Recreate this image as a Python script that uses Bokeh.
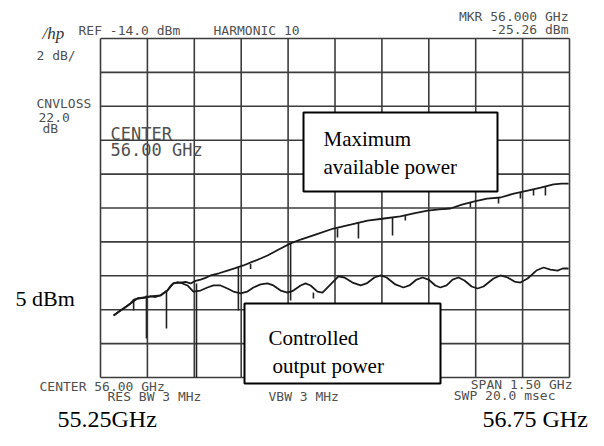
from bokeh.plotting import figure
from bokeh.models import Label, BoxAnnotation, Range1d
from bokeh.embed import file_html
from bokeh.resources import INLINE

# ---- data (frequency in GHz, level in dBm as read on the analyzer) ----
f_start, f_stop = 55.25, 56.75
ref_level, db_per_div = -14.0, 2.0

max_f = [55.292, 55.303, 55.314, 55.330, 55.346, 55.357, 55.368, 55.389, 55.410, 55.426,
         55.442, 55.453, 55.464, 55.474, 55.483, 55.495, 55.506, 55.522, 55.538, 55.554,
         55.570, 55.586, 55.602, 55.629, 55.656, 55.681, 55.707, 55.735, 55.762, 55.784,
         55.820, 55.858, 55.890, 55.940, 55.995, 56.050, 56.104, 56.157, 56.209, 56.252,
         56.296, 56.333, 56.369, 56.406, 56.443, 56.486, 56.529, 56.572, 56.616, 56.658,
         56.699, 56.725, 56.747]
max_p = [-30.34, -30.20, -30.05, -29.85, -29.63, -29.40, -29.34, -29.30, -29.22, -29.25,
         -29.16, -29.00, -28.87, -28.60, -28.45, -28.38, -28.40, -28.36, -28.45, -28.30,
         -28.22, -28.12, -27.98, -27.85, -27.69, -27.55, -27.39, -27.18, -26.98, -26.80,
         -26.45, -26.09, -25.86, -25.55, -25.21, -24.98, -24.74, -24.62, -24.50, -24.32,
         -24.15, -24.08, -24.03, -23.80, -23.62, -23.45, -23.38, -23.15, -22.97, -22.80,
         -22.61, -22.56, -22.56]

ctl_f = [55.292, 55.314, 55.346, 55.368, 55.410, 55.442, 55.464, 55.483, 55.506, 55.528,
         55.547, 55.570, 55.592, 55.611, 55.634, 55.656, 55.675, 55.698, 55.720, 55.739,
         55.762, 55.784, 55.803, 55.826, 55.848, 55.867, 55.890, 55.906, 55.922, 55.944,
         55.960, 55.986, 56.011, 56.030, 56.056, 56.082, 56.101, 56.126, 56.146, 56.165,
         56.193, 56.219, 56.238, 56.261, 56.280, 56.299, 56.321, 56.337, 56.357, 56.376,
         56.395, 56.414, 56.437, 56.456, 56.475, 56.507, 56.529, 56.552, 56.574, 56.593,
         56.616, 56.644, 56.667, 56.689, 56.712, 56.728, 56.747]
ctl_p = [-30.34, -30.05, -29.63, -29.34, -29.22, -29.16, -28.87, -28.45, -28.40, -28.57,
         -28.93, -28.87, -28.69, -28.57, -28.57, -28.75, -28.93, -29.04, -28.93, -28.69,
         -28.51, -28.45, -28.57, -28.87, -28.99, -28.87, -28.57, -28.45, -28.57, -28.93,
         -28.99, -28.51, -28.04, -28.10, -28.40, -28.57, -28.45, -28.10, -27.98, -28.10,
         -28.51, -28.69, -28.57, -28.22, -28.10, -28.22, -28.57, -28.69, -28.57, -28.22,
         -28.10, -28.28, -28.63, -28.75, -28.63, -28.16, -27.98, -28.10, -28.34, -28.40,
         -28.16, -27.69, -27.51, -27.63, -27.69, -27.57, -27.57]

spike_f = [55.356, 55.397, 55.461, 55.557, 55.691, 55.730, 55.858, 55.931, 56.008, 56.075,
           56.184, 56.225, 56.433, 56.523, 56.593, 56.635, 56.673]
spike_top = [-29.46, -29.16, -28.87, -28.45, -27.51, -27.30, -26.09, -28.99, -25.21, -24.86,
             -24.56, -24.44, -23.68, -23.38, -23.09, -22.91, -22.73]
spike_bot = [-30.05, -31.70, -31.11, -34.00, -30.05, -27.60, -29.46, -29.34, -25.74, -25.80,
             -25.62, -24.74, -23.97, -23.73, -23.44, -23.26, -23.26]

x_ticks = [f_start + i * 0.15 for i in range(11)]
y_ticks = [ref_level - i * db_per_div for i in range(11)]

# ---- layout: graticule spans picture px 100..569 (x) and 38..377 (y) ----
W, H = 588, 430
GX0, GX1, GY0, GY1 = 100, 569, 38, 377


def fx(px):
    return f_start + (px - GX0) / (GX1 - GX0) * (f_stop - f_start)


def fy(py):
    return ref_level - (py - GY0) / (GY1 - GY0) * (10 * db_per_div)


p = figure(width=W, height=H, output_backend="svg", toolbar_location=None,
           x_range=Range1d(fx(0), fx(W)), y_range=Range1d(fy(H), fy(0)),
           min_border=0, min_border_left=0, min_border_right=0,
           min_border_top=0, min_border_bottom=0)
p.title.visible = False
p.xaxis.visible = False
p.yaxis.visible = False
p.xgrid.visible = False
p.ygrid.visible = False
p.outline_line_color = None
p.background_fill_color = "white"
p.border_fill_color = "white"

GRID = "#3c3c3c"
# graticule: 10 x 10 divisions
p.segment(x_ticks, [y_ticks[-1]] * len(x_ticks), x_ticks, [y_ticks[0]] * len(x_ticks),
          line_color=GRID, line_width=1.6)
p.segment([x_ticks[0]] * len(y_ticks), y_ticks, [x_ticks[-1]] * len(y_ticks), y_ticks,
          line_color=GRID, line_width=1.6)

p.segment(spike_f, spike_top, spike_f, spike_bot, line_color="#222222", line_width=1.6)
p.line(max_f, max_p, line_color="#1a1a1a", line_width=1.8)
p.line(ctl_f, ctl_p, line_color="#1a1a1a", line_width=1.8)

# boxes
p.add_layout(BoxAnnotation(left=fx(303), right=fx(497), top=fy(112), bottom=fy(191),
                           fill_color="white", fill_alpha=1.0, line_color="black",
                           line_width=2, line_alpha=1.0))
p.add_layout(BoxAnnotation(left=fx(244), right=fx(440), top=fy(303), bottom=fy(383),
                           fill_color="white", fill_alpha=1.0, line_color="black",
                           line_width=2, line_alpha=1.0))

MONO = "DejaVu Sans Mono"
SERIF = "Liberation Serif"


def lab(text, px, py, size, font=MONO, color="#505050", align="left",
        style="normal", base="middle"):
    p.add_layout(Label(x=fx(px), y=fy(py), text=text, text_font=font,
                       text_font_size=f"{size}px", text_color=color, text_align=align,
                       text_baseline=base, text_font_style=style))


# analyzer annotations
lab("/hp", 42, 33, 17, font=SERIF, color="#333333", style="italic")
lab("REF -14.0 dBm", 78, 30, 13)
lab("HARMONIC 10", 213, 30, 13)
lab("MKR 56.000 GHz", 568, 16, 13, align="right")
lab("-25.26 dBm", 568, 29, 13, align="right")
lab("2 dB/", 36, 55, 13)
lab("CNVLOSS", 36, 103, 13)
lab("22.0", 38, 117, 13)
lab("dB", 42, 128, 13)
lab("CENTER", 110, 133, 17)
lab("56.00 GHz", 110, 149, 17)
lab("CENTER 56.00 GHz", 39, 386, 13)
lab("RES BW 3 MHz", 107, 396, 13)
lab("VBW 3 MHz", 268, 396, 13)
lab("SPAN 1.50 GHz", 572, 384, 13, align="right")
lab("SWP 20.0 msec", 555, 395, 13, align="right")

# document annotations
lab("Maximum", 323, 138, 21, font=SERIF, color="black", base="alphabetic")
lab("available power", 323, 166, 21, font=SERIF, color="black", base="alphabetic")
lab("Controlled", 268, 337, 21, font=SERIF, color="black", base="alphabetic")
lab("output power", 272, 365, 21, font=SERIF, color="black", base="alphabetic")
lab("5 dBm", 15, 298, 22, font=SERIF, color="black", base="alphabetic")
lab("55.25GHz", 57, 418, 24, font=SERIF, color="black", base="alphabetic")
lab("56.75 GHz", 482, 418, 24, font=SERIF, color="black", base="alphabetic")

open("out.html", "w").write(file_html(p, INLINE))
